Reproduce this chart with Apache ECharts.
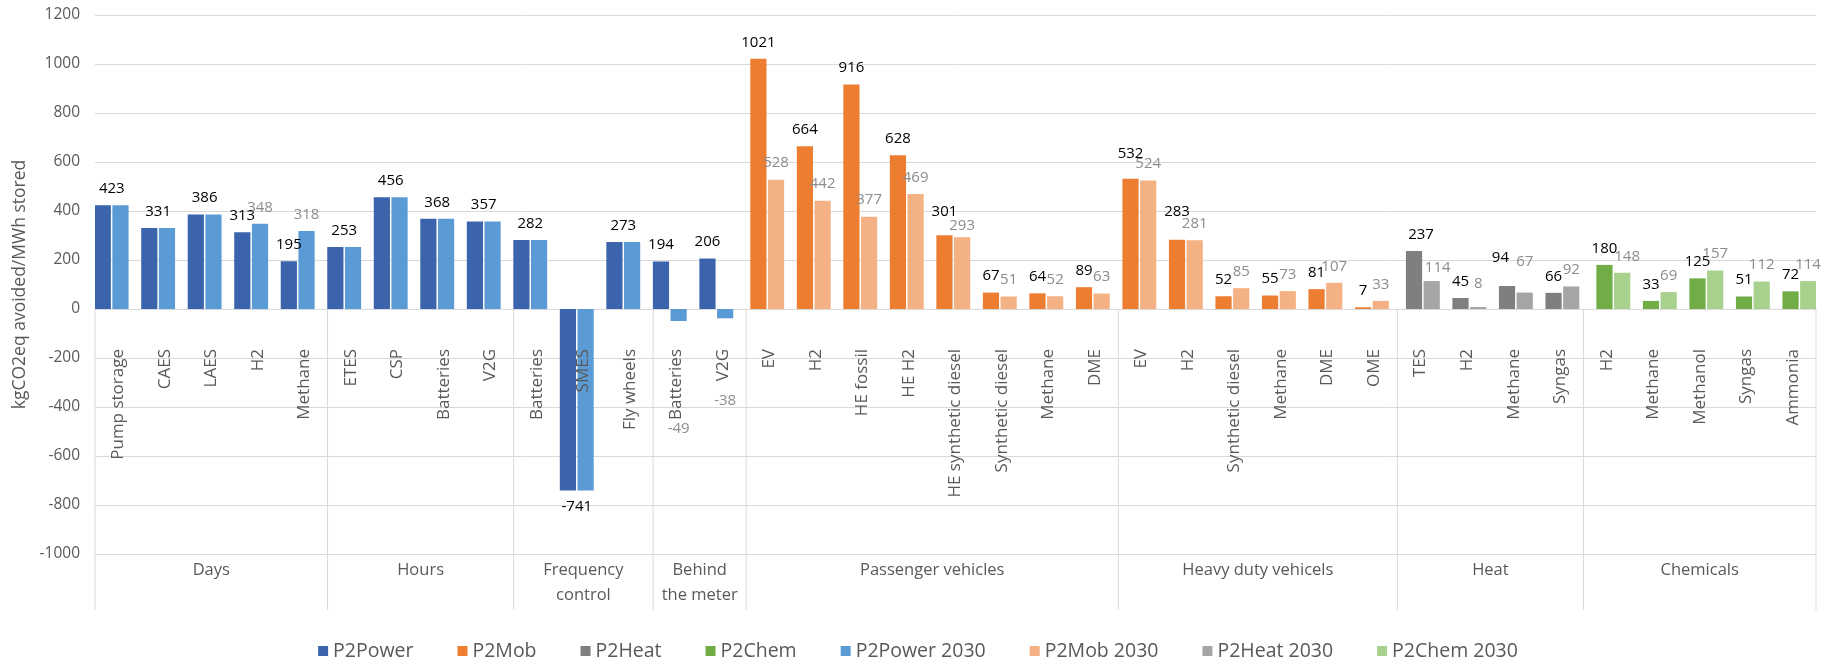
<!DOCTYPE html>
<html>
<head>
<meta charset="utf-8">
<script src="https://cdn.jsdelivr.net/npm/echarts@6/dist/echarts.min.js"></script>
<style>
  html, body { margin: 0; padding: 0; background: #ffffff; }
  #chart { width: 1836px; height: 658px; }
</style>
</head>
<body>
<div id="chart"></div>
<script>
// ---- data ----------------------------------------------------------------
const categories = [
  'Pump storage', 'CAES', 'LAES', 'H2', 'Methane',
  'ETES', 'CSP', 'Batteries', 'V2G',
  'Batteries', 'SMES', 'Fly wheels',
  'Batteries', 'V2G',
  'EV', 'H2', 'HE fossil', 'HE H2', 'HE synthetic diesel', 'Synthetic diesel', 'Methane', 'DME',
  'EV', 'H2', 'Synthetic diesel', 'Methane', 'DME', 'OME',
  'TES', 'H2', 'Methane', 'Syngas',
  'H2', 'Methane', 'Methanol', 'Syngas', 'Ammonia'
];
const groupNames = ['Days', 'Hours', 'Frequency\ncontrol', 'Behind\nthe meter',
  'Passenger vehicles', 'Heavy duty vehicels', 'Heat', 'Chemicals'];
const groupSizes = [5, 4, 3, 2, 8, 6, 4, 5];

const sectorNames = ['P2Power', 'P2Mob', 'P2Heat', 'P2Chem'];
const sectorSizes = [14, 14, 4, 5];

const powerNow  = [423, 331, 386, 313, 195, 253, 456, 368, 357, 282, -741, 273, 194, 206];
const power2030 = [423, 331, 386, 348, 318, 253, 456, 368, 357, 282, -741, 273, -49, -38];
const mobNow    = [1021, 664, 916, 628, 301, 67, 64, 89, 532, 283, 52, 55, 81, 7];
const mob2030   = [528, 442, 377, 469, 293, 51, 52, 63, 524, 281, 85, 73, 107, 33];
const heatNow   = [237, 45, 94, 66];
const heat2030  = [114, 8, 67, 92];
const chemNow   = [180, 33, 125, 51, 72];
const chem2030  = [148, 69, 157, 112, 114];

const yMin = -1000, yMax = 1200, yStep = 200;

// ---- styling ---------------------------------------------------------------
const FONT = '"Open Sans", "Noto Sans", sans-serif';
const TEXT_GREY = '#595959';
const GRID_LINE = '#d9d9d9';
const colorsNow  = ['#3c64ad', '#ed7d31', '#7f7f7f', '#70ad47'];
const colors2030 = ['#5b9bd5', '#f4b183', '#a5a5a5', '#a9d18e'];

const GRID = { left: 95, right: 20, top: 15, bottom: 104 };
const CHART_H = 658;
const plotH = CHART_H - GRID.top - GRID.bottom;
// the category axis sits on the zero line
const zeroOffset = -plotH * (0 - yMin) / (yMax - yMin);

// bar slots: 8 overlapping series per category, each shifted by SLOT px
const BAR_W = 16.2;
const SLOT = 4.42;
const BAR_GAP = ((SLOT - BAR_W) / BAR_W * 100).toFixed(2) + '%';

// hand-placed data labels (pixel nudges, keyed by category index)
const labelNudgeNow  = { 18: [0, -7], 22: [0, -8], 23: [0, -11.5], 28: [7, 0], 30: [-6.6, -12] };
const labelNudge2030 = { 12: [0, 91], 13: [0, 66], 18: [0, 5], 28: [6, 3], 29: [0, -7], 30: [0, -14], 32: [5, 0] };

// ---- build series ----------------------------------------------------------
const nowSets  = [powerNow, mobNow, heatNow, chemNow];
const sets2030 = [power2030, mob2030, heat2030, chem2030];
const nCat = categories.length;

function sectorStart(s) {
  let k = 0;
  for (let j = 0; j < s; j++) k += sectorSizes[j];
  return k;
}

function buildItems(s, is2030) {
  const out = new Array(nCat).fill(null);
  const start = sectorStart(s);
  const own = is2030 ? sets2030[s] : nowSets[s];
  const other = is2030 ? nowSets[s] : sets2030[s];
  own.forEach((v, k) => {
    const idx = start + k;
    const same = v === other[k];
    const nudge = (is2030 ? labelNudge2030 : labelNudgeNow)[idx] || [0, 0];
    let offset = nudge;
    let show = true;
    if (same) {
      if (is2030) show = false;
      else offset = [2 * SLOT, 0];   // one label centred over the pair
    }
    out[idx] = {
      value: v,
      label: { show: show, position: v < 0 ? 'bottom' : 'top', offset: offset }
    };
  });
  return out;
}

const series = [];
[false, true].forEach(is2030 => {
  sectorNames.forEach((name, s) => {
    series.push({
      name: is2030 ? name + ' 2030' : name,
      type: 'bar',
      barWidth: BAR_W,
      barGap: BAR_GAP,
      itemStyle: { color: is2030 ? colors2030[s] : colorsNow[s] },
      label: {
        show: true,
        distance: 9,
        fontFamily: FONT,
        fontSize: 15,
        color: is2030 ? '#8c8c8c' : '#000000'
      },
      emphasis: { disabled: true },
      data: buildItems(s, is2030)
    });
  });
});

// group separators and group titles under the category labels
const groupData = [];
{
  let k = 0;
  groupSizes.forEach(n => { groupData.push([k, n]); k += n; });
}
series.push({
  type: 'custom',
  silent: true,
  clip: false,
  z: 1,
  encode: { x: 0, y: 1 },
  data: groupData,
  renderItem: function (params, api) {
    const start = api.value(0);
    const count = api.value(1);
    const band = api.size([1, 0])[0];
    const left = api.coord([start, 0])[0] - band / 2;
    const right = left + band * count;
    const yZero = api.coord([start, 0])[1];
    const yLow = api.coord([start, yMin])[1];
    const line = x => ({
      type: 'line',
      shape: { x1: x, y1: yZero, x2: x, y2: yLow + 56 },
      style: { stroke: GRID_LINE, lineWidth: 1 }
    });
    const children = [line(left)];
    if (params.dataIndex === groupSizes.length - 1) children.push(line(right));
    children.push({
      type: 'text',
      style: {
        text: groupNames[params.dataIndex],
        x: (left + right) / 2,
        y: yLow + 4,
        align: 'center',
        verticalAlign: 'top',
        lineHeight: 25,
        fontFamily: FONT,
        fontSize: 16.5,
        fill: TEXT_GREY
      }
    });
    return { type: 'group', children: children };
  }
});

// ---- chart -------------------------------------------------------------------
const chart = echarts.init(document.getElementById('chart'), null, { renderer: 'canvas' });
chart.setOption({
  animation: false,
  backgroundColor: '#ffffff',
  textStyle: { fontFamily: FONT },
  grid: {
    left: GRID.left, right: GRID.right, top: GRID.top, bottom: GRID.bottom,
    containLabel: false,
    outerBoundsMode: 'none'
  },
  legend: {
    data: series.filter(s => s.type === 'bar').map(s => s.name),
    left: 'center',
    top: 636,
    icon: 'rect',
    itemWidth: 10,
    itemHeight: 10,
    itemGap: 44,
    selectedMode: false,
    textStyle: { fontFamily: FONT, fontSize: 19.5, color: TEXT_GREY }
  },
  xAxis: {
    type: 'category',
    data: categories,
    boundaryGap: true,
    position: 'bottom',
    offset: zeroOffset,
    z: 5,
    // the zero gridline of the value axis serves as the baseline
    axisLine: { show: false, onZero: false },
    axisTick: { show: false },
    axisLabel: {
      interval: 0,
      rotate: 90,
      margin: 40,
      fontFamily: FONT,
      fontSize: 17,
      color: TEXT_GREY
    },
    splitLine: { show: false }
  },
  yAxis: {
    type: 'value',
    min: yMin,
    max: yMax,
    interval: yStep,
    name: 'kgCO2eq avoided/MWh stored',
    nameLocation: 'middle',
    nameRotate: 90,
    nameGap: 62,
    nameTextStyle: { fontFamily: FONT, fontSize: 17.5, color: TEXT_GREY },
    axisLine: { show: false },
    axisTick: { show: false },
    axisLabel: {
      margin: 15,
      fontFamily: FONT,
      fontSize: 15.5,
      color: TEXT_GREY,
      formatter: v => String(v)
    },
    splitLine: { lineStyle: { color: GRID_LINE, width: 1 } }
  },
  series: series
});
</script>
</body>
</html>
